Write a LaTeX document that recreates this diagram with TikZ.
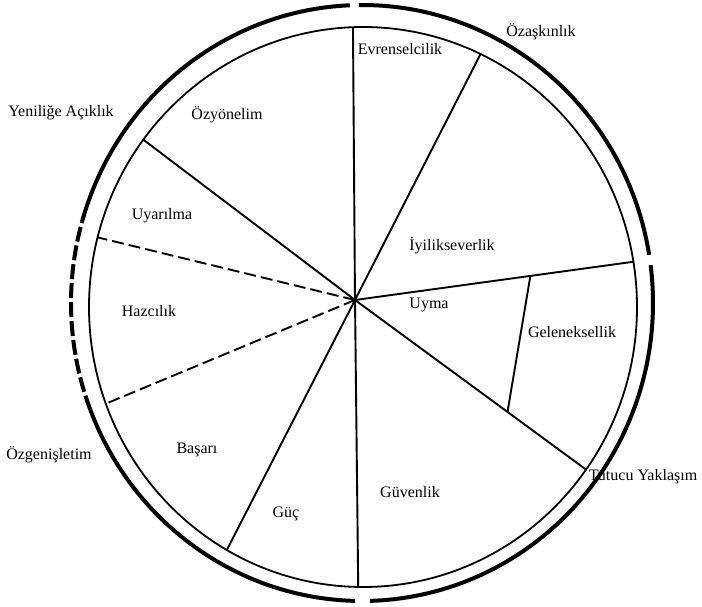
\documentclass[tikz,border=0pt]{standalone}
\usepackage{fontspec}
\setmainfont{Liberation Serif}
\usetikzlibrary{calc}
\begin{document}
\begin{tikzpicture}[x=1pt, y=-1pt]
\tikzset{
    kenar/.style={-, line width=1.9pt, black},
    kesik/.style={-, line width=1.9pt, black, dash pattern=on 12pt off 5pt},
    halka/.style={-, line width=4pt, black},
    halkakesik/.style={-, line width=4pt, black, dash pattern=on 15pt off 4pt},
    deger/.style={font=\fontsize{16}{18}\selectfont, inner sep=0pt},
    boyut/.style={font=\fontsize{16}{18}\selectfont, inner sep=0pt}
}
\useasboundingbox (0,0) rectangle (702,607);
\coordinate (hub) at (355,300);
\coordinate (ic) at (363,307);
\coordinate (oc) at (362,303);
% Iç çember
\draw[line width=1.8pt] (ic) ellipse[x radius=274, y radius=280];
% Dış halkalar (üst boyutlar)
\draw[halka] (oc) ++(-90.6:291 and 298) arc[start angle=-90.6, end angle=-9.3, x radius=291, y radius=298];
\draw[halka] (oc) ++(-7.3:291 and 298) arc[start angle=-7.3, end angle=88.4, x radius=291, y radius=298];
\draw[halka] (oc) ++(91.4:291 and 298) arc[start angle=91.4, end angle=159, x radius=291, y radius=298];
\draw[halkakesik] (oc) ++(159:291 and 298) arc[start angle=159, end angle=195.8, x radius=291, y radius=298];
\draw[halka] (oc) ++(195.8:291 and 298) arc[start angle=195.8, end angle=267.6, x radius=291, y radius=298];
% Dilim uçları
\coordinate (e1) at ($(ic)+(-92.1:274 and 280)$);
\coordinate (e2) at ($(ic)+(-64.6:274 and 280)$);
\coordinate (e3) at ($(ic)+(-9.3:274 and 280)$);
\coordinate (e4) at ($(ic)+(35.5:274 and 280)$);
\coordinate (e5) at ($(ic)+(91:274 and 280)$);
\coordinate (e6) at ($(ic)+(119.8:274 and 280)$);
\coordinate (e7) at ($(ic)+(159.8:274 and 280)$);
\coordinate (e8) at ($(ic)+(194.4:274 and 280)$);
\coordinate (e9) at ($(ic)+(216.7:274 and 280)$);
% Dilimler
\draw[kenar] (hub) -- (e1);
\draw[kenar] (hub) -- (e2);
\draw[kenar] (hub) -- (e3);
\draw[kenar] (hub) -- (e4);
\draw[kenar] (hub) -- (e5);
\draw[kenar] (hub) -- (e6);
\draw[kesik] (hub) -- (e7);
\draw[kesik] (hub) -- (e8);
\draw[kenar] (hub) -- (e9);
% Uyma / Geleneksellik ayrımı
\coordinate (g1) at ($(hub)!0.63!(e3)$);
\coordinate (g2) at ($(hub)!0.66!(e4)$);
\draw[kenar] (g1) -- (g2);
% Değerler
\node[deger] (evr) at (400,49)  {Evrenselcilik};
\node[deger] (iyi) at (452,246) {İyilikseverlik};
\node[deger] (uym) at (429,305) {Uyma};
\node[deger] (gel) at (572,332) {Geleneksellik};
\node[deger] (guv) at (410,492) {Güvenlik};
\node[deger] (guc) at (286,514) {Güç};
\node[deger] (bas) at (197,450) {Başarı};
\node[deger] (haz) at (149,311) {Hazcılık};
\node[deger] (uya) at (162,216) {Uyarılma};
\node[deger] (ozy) at (227,115) {Özyönelim};
% Üst boyutlar
\node[boyut] (oza) at (541,32)  {Özaşkınlık};
\node[boyut] (tut) at (643,477) {Tutucu Yaklaşım};
\node[boyut] (ozg) at (49,455)  {Özgenişletim};
\node[boyut] (yen) at (61,113)  {Yeniliğe Açıklık};
\end{tikzpicture}
\end{document}
